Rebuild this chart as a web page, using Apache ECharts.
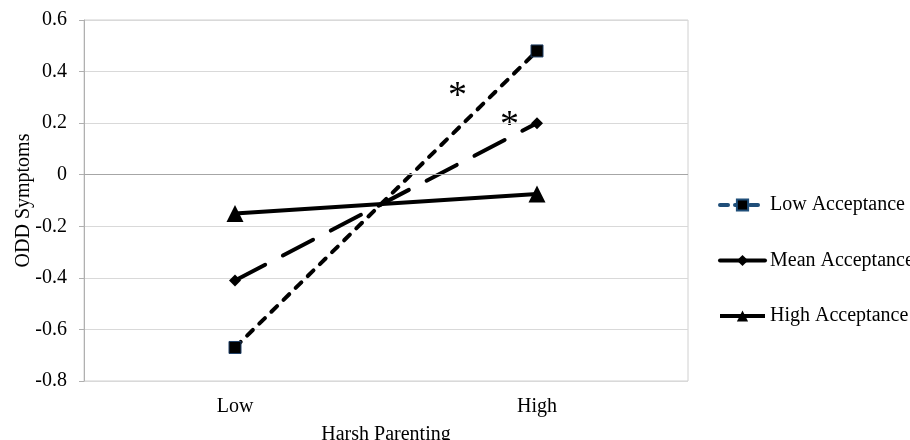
<!DOCTYPE html>
<html><head><meta charset="utf-8">
<script src="https://cdn.jsdelivr.net/npm/echarts@6/dist/echarts.min.js"></script>
<style>html,body{margin:0;padding:0;background:#fff}#c{width:910px;height:440px}</style>
</head><body><div id="c"></div>
<script>
const categories = ['Low', 'High'];
const lowAcceptance = [-0.67, 0.48];
const meanAcceptance = [-0.41, 0.20];
const highAcceptance = [-0.15, -0.075];
const seriesNames = ['Low Acceptance', 'Mean Acceptance', 'High Acceptance'];
const yTicks = { min: -0.8, max: 0.6, interval: 0.2 };

const FONT = 'Liberation Serif';
const FS = 20;
const chart = echarts.init(document.getElementById('c'));
chart.setOption({
  animation: false,
  backgroundColor: '#fff',
  textStyle: { fontFamily: FONT },
  grid: { left: 84, right: 222, top: 20, bottom: 59, show: true, borderColor: '#d0d0d0', borderWidth: 1,
          containLabel: false, outerBoundsMode: 'none' },
  legend: {
    orient: 'vertical', left: 718, top: 195, padding: 0, itemGap: 35.5, itemWidth: 45, itemHeight: 14,
    textStyle: { fontFamily: FONT, fontSize: FS, color: '#000' },
    data: [
      { name: seriesNames[0], lineStyle: { color: '#1f4e79', width: 4, type: [8, 7], cap: 'round' }, itemStyle: { color: '#000', borderColor: '#1f4e79' } },
      { name: seriesNames[1], lineStyle: { type: 'solid', width: 4 } },
      { name: seriesNames[2], lineStyle: { width: 4 } }
    ]
  },
  xAxis: {
    type: 'category', data: categories, boundaryGap: true,
    axisLine: { show: false }, axisTick: { show: false },
    axisLabel: { fontFamily: FONT, fontSize: FS, color: '#000', margin: 16 },
    name: 'Harsh Parenting', nameLocation: 'middle', nameGap: 44,
    nameTextStyle: { fontFamily: FONT, fontSize: FS, color: '#000' }
  },
  yAxis: {
    type: 'value', min: yTicks.min, max: yTicks.max, interval: yTicks.interval,
    axisLine: { show: true, onZero: false, lineStyle: { color: '#b0b0b0' } },
    axisTick: { show: true, length: 5, inside: false, lineStyle: { color: '#b0b0b0' } },
    axisLabel: { fontFamily: FONT, fontSize: FS, color: '#000', margin: 17, formatter: v => String(+v.toFixed(1)) },
    splitLine: { lineStyle: { color: '#d9d9d9' } },
    name: 'ODD Symptoms', nameLocation: 'middle', nameGap: 50, nameRotate: 90, nameMoveOverlap: false,
    nameTextStyle: { fontFamily: FONT, fontSize: FS, color: '#000' }
  },
  series: [
    { name: seriesNames[0], type: 'line', data: lowAcceptance, symbol: 'rect', symbolSize: 12,
      lineStyle: { color: '#000', width: 4, type: [8, 9], cap: 'round' },
      itemStyle: { color: '#000', borderColor: '#1f3f66', borderWidth: 1 },
      markLine: { silent: true, symbol: 'none', label: { show: false },
        lineStyle: { color: '#a6a6a6', type: 'solid', width: 1 }, data: [{ yAxis: 0 }] },
      z: 3 },
    { name: seriesNames[1], type: 'line', data: meanAcceptance, symbol: 'diamond', symbolSize: 12,
      lineStyle: { color: '#000', width: 4, type: [34, 20], cap: 'round' },
      itemStyle: { color: '#000' }, z: 3 },
    { name: seriesNames[2], type: 'line', data: highAcceptance, symbol: 'triangle', symbolSize: 17,
      lineStyle: { color: '#000', width: 4, type: 'solid' },
      itemStyle: { color: '#000' }, z: 3 }
  ],
  graphic: [
    { type: 'text', left: 448, top: 78, style: { text: '*', font: '38px "Liberation Serif"', fill: '#000' } },
    { type: 'text', left: 500, top: 107, style: { text: '*', font: '38px "Liberation Serif"', fill: '#000' } }
  ]
});
</script></body></html>
